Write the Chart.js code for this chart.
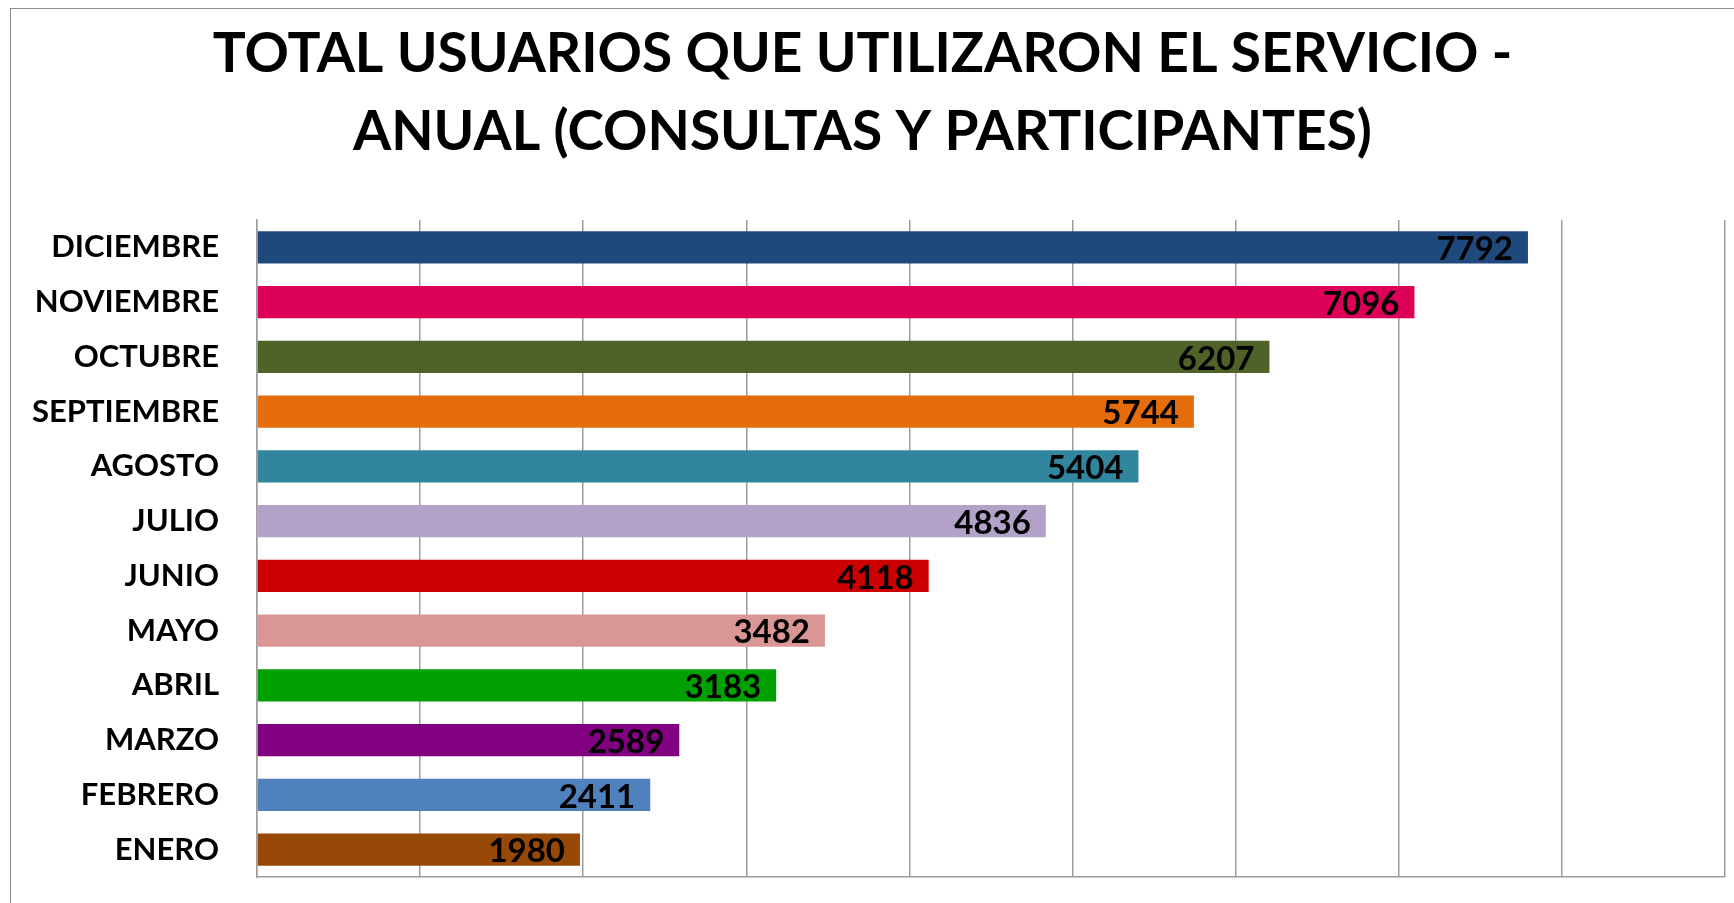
<!DOCTYPE html>
<html>
<head>
<meta charset="utf-8">
<script src="https://cdn.jsdelivr.net/npm/chart.js@4.4.1/dist/chart.umd.min.js"></script>
<style>
  html, body { margin: 0; padding: 0; background: #fff; overflow: hidden; }
  .frame { position: absolute; left: 10px; top: 8px; width: 1800px; height: 1000px; border: 1px solid #8c8c8c; }
  canvas { position: absolute; left: 0; top: 0; }
</style>
</head>
<body>
<div class="frame"></div>
<canvas id="chart" width="1734" height="903"></canvas>
<script>
const titleLines = ['TOTAL USUARIOS QUE UTILIZARON EL SERVICIO -', 'ANUAL (CONSULTAS Y PARTICIPANTES)']
const months = ['DICIEMBRE', 'NOVIEMBRE', 'OCTUBRE', 'SEPTIEMBRE', 'AGOSTO', 'JULIO',
  'JUNIO', 'MAYO', 'ABRIL', 'MARZO', 'FEBRERO', 'ENERO']
const usuarios = [7792, 7096, 6207, 5744, 5404, 4836, 4118, 3482, 3183, 2589, 2411, 1980]
const barColors = ['#1F497D', '#DC0058', '#4F6228', '#E46C0A', '#31859C', '#B3A2C7',
  '#CC0000', '#D99694', '#00A000', '#800080', '#4F81BD', '#974806']
const xMax = 9000
const xStep = 1000

const gridColor = '#9d9d9d'
const font = 'Lato'

// value written inside the end of each bar
const barValues = {
  id: 'barValues',
  afterDatasetsDraw(chart) {
    const ctx = chart.ctx
    const meta = chart.getDatasetMeta(0)
    ctx.save()
    ctx.font = 'bold 33px ' + font
    ctx.fillStyle = '#000'
    ctx.textAlign = 'right'
    ctx.textBaseline = 'middle'
    meta.data.forEach((bar, i) => {
      ctx.fillText(String(usuarios[i]), bar.x - 15, bar.y + 2)
    })
    ctx.restore()
  }
}

new Chart(document.getElementById('chart'), {
  type: 'bar',
  data: {
    labels: months,
    datasets: [{
      data: usuarios,
      backgroundColor: barColors,
      borderWidth: 0,
      barPercentage: 0.59,
      categoryPercentage: 1
    }]
  },
  options: {
    indexAxis: 'y',
    responsive: false,
    animation: false,
    layout: { padding: { left: 0, right: 9, top: 0, bottom: 26 } },
    plugins: {
      legend: { display: false },
      tooltip: { enabled: false },
      title: {
        display: true,
        text: titleLines,
        color: '#000',
        font: { family: font, size: 55, weight: 'bold', lineHeight: 78 / 55 },
        padding: { top: 15, bottom: 49 }
      }
    },
    scales: {
      x: {
        min: 0,
        max: xMax,
        ticks: { stepSize: xStep, display: false },
        grid: { color: gridColor, lineWidth: 1.5, drawTicks: false },
        border: { display: true, color: gridColor, width: 1.5 },
        afterFit(scale) { scale.height = 0 }
      },
      y: {
        ticks: { color: '#000', padding: 38, font: { family: font, size: 31, weight: 'bold' } },
        grid: { display: false, drawTicks: false },
        border: { display: true, color: gridColor, width: 1.5 },
        afterFit(scale) {
          scale.width = 257
          // tick padding should not push the plot away from the bottom edge
          scale.paddingTop = 0
          scale.paddingBottom = 0
        }
      }
    }
  },
  plugins: [barValues]
})
</script>
</body>
</html>
